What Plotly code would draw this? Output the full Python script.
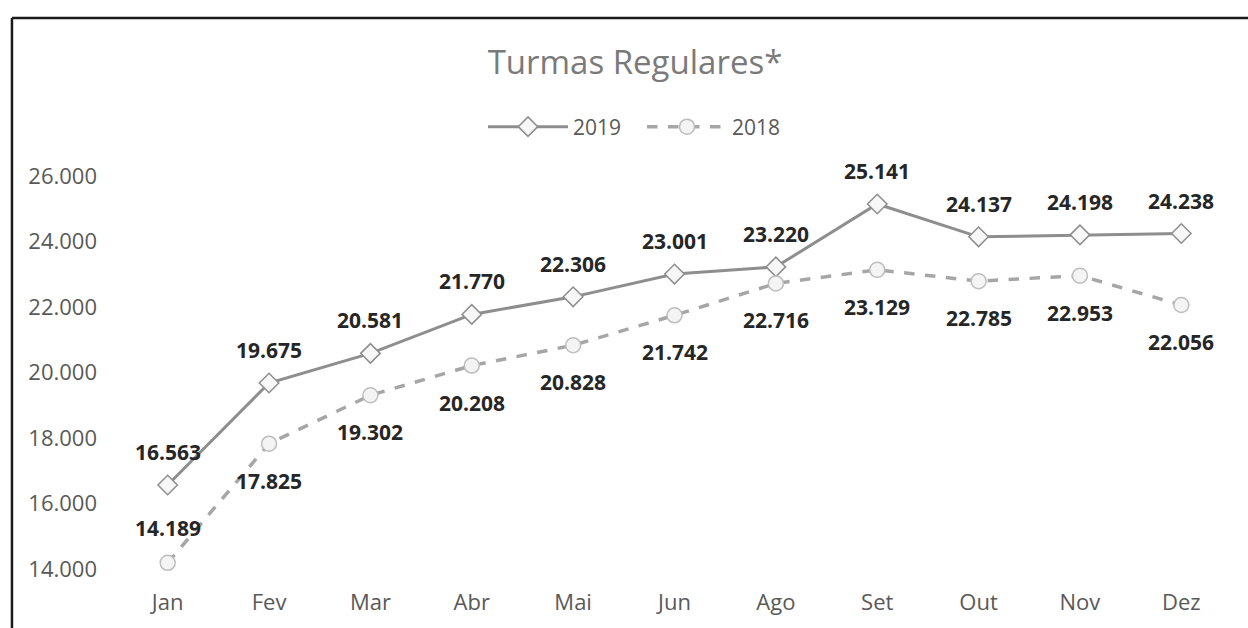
import plotly.graph_objects as go

months = ["Jan", "Fev", "Mar", "Abr", "Mai", "Jun", "Ago", "Set", "Out", "Nov", "Dez"]
values_2019 = [16563, 19675, 20581, 21770, 22306, 23001, 23220, 25141, 24137, 24198, 24238]
values_2018 = [14189, 17825, 19302, 20208, 20828, 21742, 22716, 23129, 22785, 22953, 22056]
y_ticks = [14000, 16000, 18000, 20000, 22000, 24000, 26000]


def fmt(v):
    return f"{v:,}".replace(",", ".")


FONT = "Open Sans"
LABEL_FONT = dict(family=FONT, size=21, color="#262626", weight="bold")

fig = go.Figure()
fig.add_trace(go.Scatter(
    x=months, y=values_2019, name="2019", mode="lines+markers",
    line=dict(color="#8e8e8e", width=3),
    marker=dict(symbol="diamond", size=15, color="#f7f7f7", line=dict(color="#8e8e8e", width=1.5)),
    cliponaxis=False,
))
fig.add_trace(go.Scatter(
    x=months, y=values_2018, name="2018", mode="lines+markers",
    line=dict(color="#a6a6a6", width=3.5, dash="dash"),
    marker=dict(symbol="circle", size=15, color="#f4f4f4", line=dict(color="#bdbdbd", width=1.5)),
    cliponaxis=False,
))

# data labels
for m, v in zip(months, values_2019):
    fig.add_annotation(x=m, y=v, text=fmt(v), showarrow=False, yshift=33,
                       font=LABEL_FONT, xanchor="center", yanchor="middle")
for i, (m, v) in enumerate(zip(months, values_2018)):
    fig.add_annotation(x=m, y=v, text=fmt(v), showarrow=False, yshift=(35 if i == 0 else -37),
                       font=LABEL_FONT, xanchor="center", yanchor="middle")

fig.update_layout(
    width=1248, height=628,
    paper_bgcolor="white", plot_bgcolor="white",
    margin=dict(l=117, r=16, t=173, b=59),
    font=dict(family=FONT, color="#595959"),
    title=dict(text="Turmas Regulares*", x=635 / 1248, xanchor="center", xref="container",
               y=1 - 62 / 628, yanchor="middle", yref="container",
               font=dict(family=FONT, size=33, color="#7a7a7a")),
    legend=dict(orientation="h", x=483 / 1248, xanchor="left", xref="container",
                y=1 - 127 / 628, yanchor="middle", yref="container",
                font=dict(family=FONT, size=21, color="#595959"),
                itemwidth=80, entrywidth=64, entrywidthmode="pixels",
                bgcolor="rgba(0,0,0,0)"),
    showlegend=True,
)
fig.update_xaxes(type="category", range=[-0.5, len(months) - 0.5], autorange=False,
                 showgrid=False, zeroline=False, showline=False,
                 ticks="", ticklabelstandoff=18,
                 tickfont=dict(family=FONT, size=22, color="#595959"))
fig.update_yaxes(range=[14000, 26000], autorange=False, tickvals=y_ticks,
                 ticktext=[fmt(v) for v in y_ticks],
                 showgrid=False, zeroline=False, showline=False, ticks="",
                 ticklabelstandoff=19, tickfont=dict(family=FONT, size=22, color="#595959"))

# Frame lines (top and left) of the scanned chart
fig.add_shape(type="line", xref="paper", yref="paper", x0=-0.0942, x1=1.02, y0=1.4015, y1=1.4015,
              line=dict(color="#1a1a1a", width=2.5))
fig.add_shape(type="line", xref="paper", yref="paper", x0=-0.0942, x1=-0.0942, y0=1.4015, y1=-0.16,
              line=dict(color="#1a1a1a", width=2.5))

fig.write_html("out.html", config={"displayModeBar": False},
               post_script="document.body.style.margin='0px';")
